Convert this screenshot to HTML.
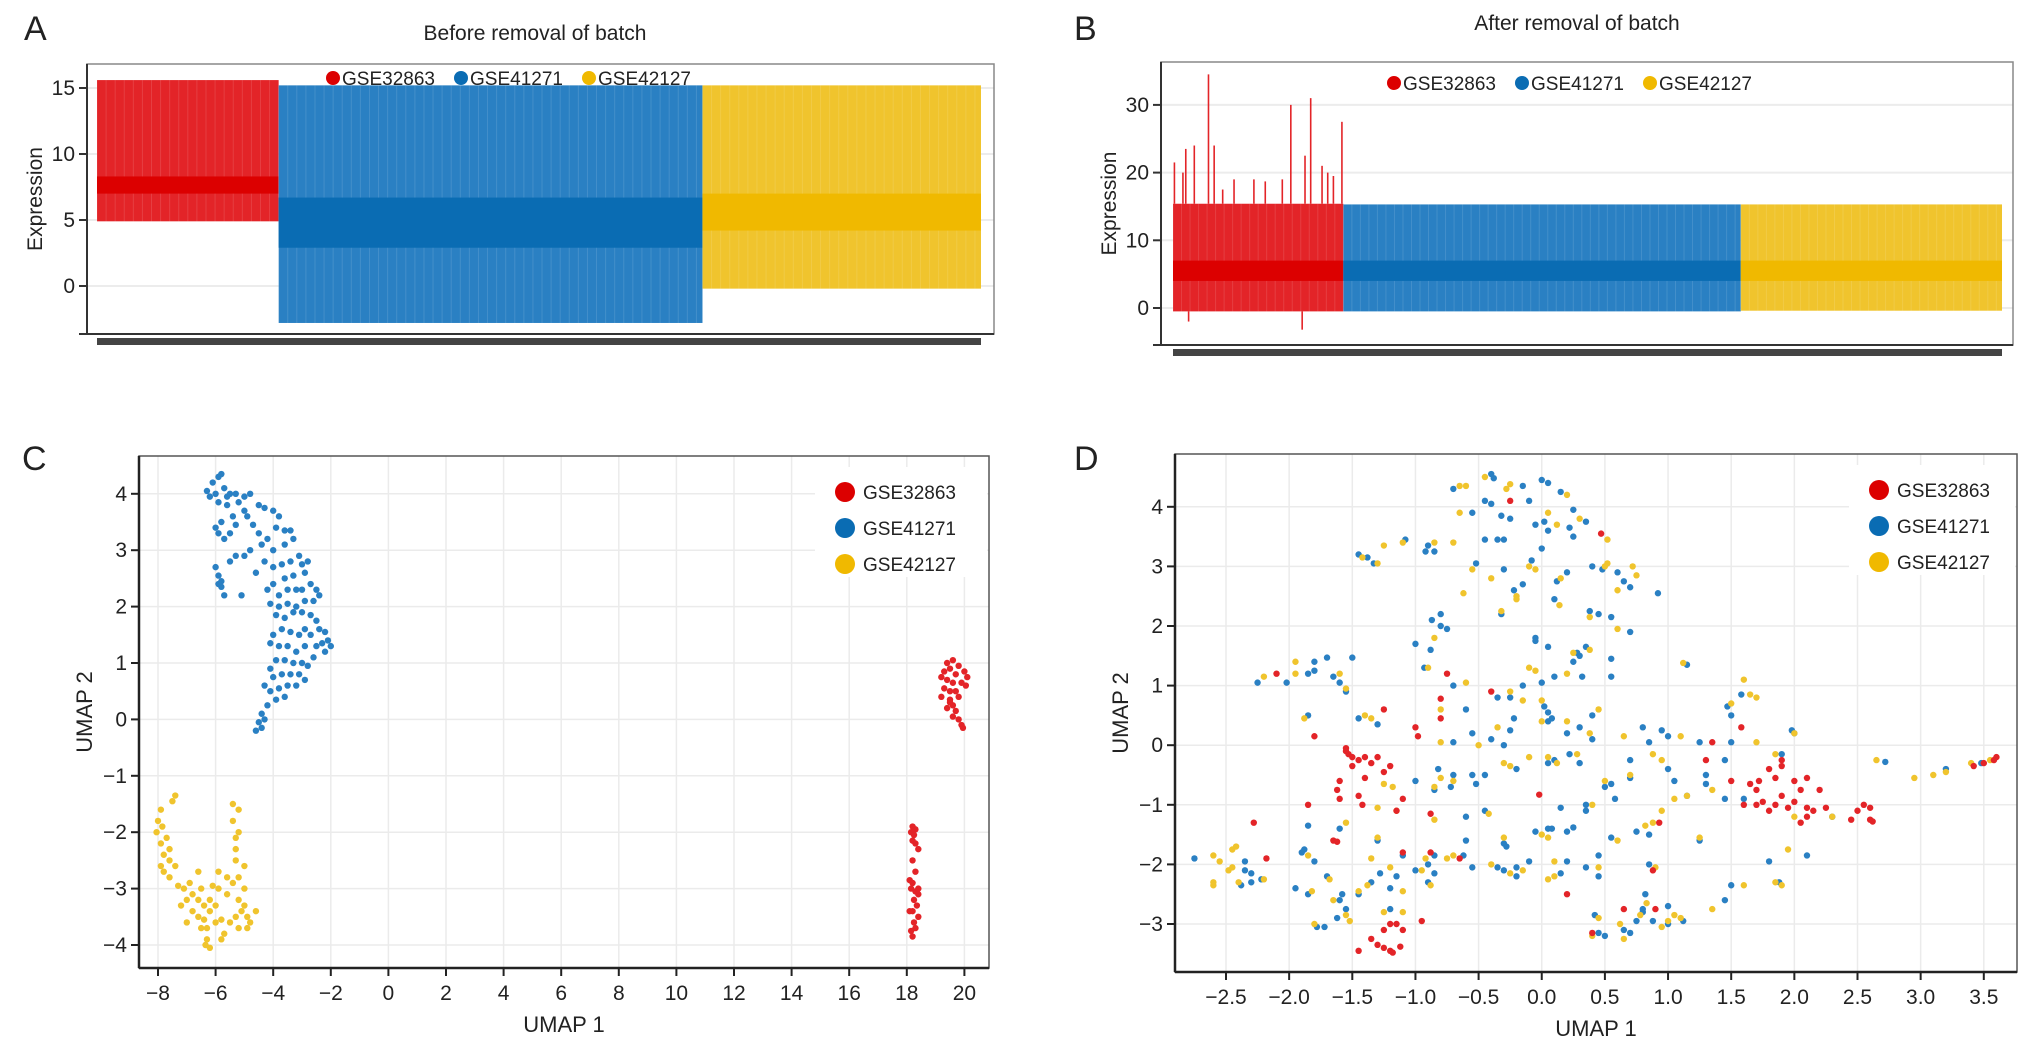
<!DOCTYPE html>
<html><head><meta charset="utf-8">
<style>
html,body{margin:0;padding:0;background:#fff;}
svg{display:block;font-family:"Liberation Sans",sans-serif;}
</style></head>
<body>
<svg id="fig" width="2032" height="1053" viewBox="0 0 2032 1053"></svg>
<script>
// ---------- data ----------
const groups = ["GSE32863","GSE41271","GSE42127"];
const colors = ["#e32428","#2a80c3","#f0c42d"];
const boxColors = ["#dc0000","#0a6cb3","#f0b900"];
// panel A stats per group: [lowWhisker, q1, q3, highWhisker]
const statsA = [[4.9,7.0,8.3,15.6],[-2.8,2.9,6.7,15.2],[-0.2,4.2,7.0,15.2]];
const samplesA = [60,140,92];
// panel B stats
const statsB = [[-0.5,4.0,7.0,15.4],[-0.5,4.0,7.0,15.3],[-0.4,4.0,7.0,15.3]];
const samplesB = [60,140,92];
const spikeIdxB = [0,3,4,7,12,14,17,21,28,32,38,41,46,48,52,54,56,59];
const spikeValB = [21.5,20,23.5,24,34.5,24,17.5,19,19,18.7,19,30,22.5,31,21,20,19.5,27.5];
const lowSpikeIdxB = [5,45];
const lowSpikeValB = [-2,-3.2];
const ticksA = [0,5,10,15];
const ticksB = [0,10,20,30];
const ticksCx = [-8,-6,-4,-2,0,2,4,6,8,10,12,14,16,18,20];
const ticksCy = [-4,-3,-2,-1,0,1,2,3,4];
const ticksDx = [-2.5,-2.0,-1.5,-1.0,-0.5,0.0,0.5,1.0,1.5,2.0,2.5,3.0,3.5];
const ticksDy = [-3,-2,-1,0,1,2,3,4];

const cBlueX=[-6.3,-6.1,-5.9,-5.8,-6.2,-6.0,-5.7,-5.6,-5.5,-5.3,-5.0,-4.8,-5.2,-5.9,-5.6,-4.5,-4.3,-4.0,-3.8,-5.0,-4.9,-5.4,-5.8,-6.0,-5.9,-5.7,-5.5,-5.3,-4.7,-4.5,-4.2,-3.9,-3.6,-3.4,-3.3,-3.6,-4.0,-4.4,-4.8,-5.0,-5.3,-5.5,-6.0,-5.9,-5.8,-5.7,-5.1,-4.6,-4.3,-4.0,-3.7,-3.4,-3.1,-3.0,-2.8,-2.9,-3.3,-3.6,-4.0,-4.2,-3.8,-3.5,-3.2,-3.0,-2.7,-2.5,-2.4,-2.6,-2.9,-3.2,-3.5,-3.8,-4.1,-3.9,-3.6,-3.3,-3.0,-2.7,-2.5,-2.4,-2.2,-2.1,-2.0,-2.2,-2.3,-2.5,-2.7,-2.9,-3.1,-3.4,-3.7,-4.0,-4.1,-3.8,-3.5,-3.2,-2.9,-2.6,-2.8,-3.0,-3.3,-3.6,-3.9,-4.1,-4.0,-3.7,-3.4,-3.1,-2.9,-3.2,-3.5,-3.8,-4.1,-4.3,-3.9,-3.6,-4.2,-4.4,-4.5,-4.6,-4.4,-4.3,-5.9,-5.8];
const cBlueY=[4.05,4.2,4.3,4.35,3.95,4.0,4.1,3.95,4.0,4.0,3.95,4.0,3.85,3.85,3.8,3.8,3.75,3.7,3.6,3.7,3.6,3.6,3.5,3.4,3.3,3.2,3.3,3.45,3.45,3.3,3.2,3.4,3.35,3.35,3.2,3.1,3.0,3.1,3.0,2.9,2.9,2.8,2.7,2.4,2.35,2.2,2.2,2.6,2.8,2.7,2.75,2.8,2.9,2.75,2.8,2.6,2.55,2.5,2.4,2.3,2.2,2.3,2.3,2.3,2.4,2.3,2.2,2.1,2.1,2.0,2.05,2.0,2.05,1.85,1.8,1.9,1.9,1.85,1.75,1.6,1.55,1.4,1.3,1.2,1.35,1.3,1.5,1.6,1.5,1.55,1.6,1.5,1.35,1.3,1.3,1.2,1.3,1.1,0.95,1.0,1.0,1.05,1.05,0.9,0.75,0.8,0.8,0.8,0.7,0.6,0.6,0.55,0.5,0.6,0.35,0.4,0.25,0.1,-0.05,-0.2,-0.15,0.0,2.55,2.45];
const cYelX=[-7.4,-7.5,-7.9,-8.0,-7.85,-8.05,-7.9,-7.7,-7.6,-7.8,-7.9,-7.6,-7.4,-7.6,-7.8,-7.3,-7.1,-7.0,-6.8,-6.6,-6.4,-6.8,-6.6,-6.4,-6.2,-6.0,-6.2,-6.5,-6.3,-6.3,-6.2,-6.35,-6.0,-5.8,-5.7,-5.8,-5.5,-5.3,-5.1,-4.9,-4.8,-4.9,-5.2,-4.6,-5.0,-5.2,-5.0,-5.2,-5.4,-5.6,-5.9,-5.3,-5.3,-5.3,-5.4,-5.4,-5.2,-5.2,-5.0,-6.6,-7.2,-6.9,-5.6,-5.9,-6.1,-7.0,-6.5];
const cYelY=[-1.35,-1.45,-1.6,-1.8,-1.9,-2.0,-2.2,-2.1,-2.3,-2.4,-2.6,-2.5,-2.6,-2.8,-2.7,-2.95,-3.0,-3.2,-3.1,-3.2,-3.3,-3.4,-3.5,-3.55,-3.4,-3.3,-3.2,-3.0,-3.7,-3.9,-4.05,-4.0,-3.6,-3.55,-3.8,-3.9,-3.6,-3.5,-3.4,-3.5,-3.6,-3.7,-3.7,-3.4,-3.3,-3.2,-3.0,-2.8,-2.9,-2.8,-2.7,-2.5,-2.3,-2.1,-1.8,-1.5,-1.6,-2.0,-2.6,-2.7,-3.3,-2.9,-3.1,-3.0,-2.95,-3.6,-3.7];
const cRedX=[19.4,19.6,19.8,19.5,19.3,20.0,20.1,19.7,19.2,19.4,19.6,19.9,20.05,19.3,19.5,19.7,19.2,19.5,19.8,19.6,19.4,19.7,19.6,19.8,19.9,19.95,19.5,18.2,18.3,18.15,18.25,18.2,18.3,18.4,18.2,18.3,18.1,18.2,18.15,18.3,18.4,18.25,18.35,18.2,18.4,18.25,18.3,18.15,18.2,18.4,18.1];
const cRedY=[1.0,1.05,0.95,0.9,0.85,0.85,0.75,0.8,0.75,0.7,0.65,0.65,0.6,0.55,0.5,0.5,0.4,0.35,0.4,0.25,0.2,0.15,0.05,0.0,-0.1,-0.15,0.3,-1.9,-1.95,-2.0,-2.05,-2.15,-2.2,-2.3,-2.5,-2.7,-2.85,-2.9,-3.0,-3.05,-3.1,-3.2,-3.3,-3.4,-3.5,-3.6,-3.7,-3.75,-3.85,-3.0,-3.4];

const dPts = "b,-0.4,4.55 b,-0.38,4.48 y,-0.45,4.5 b,-0.15,4.35 y,-0.25,4.38 y,-0.28,4.3 r,-0.25,4.1 b,-0.1,4.1 b,0,4.45 b,0.05,4.4 b,0.15,4.25 y,0.2,4.2 b,-0.45,4.1 b,-0.4,4.05 b,-0.55,3.9 y,-0.65,3.9 b,-0.7,4.3 y,-0.65,4.35 y,-0.6,4.35 b,-0.32,3.85 b,-0.25,3.8 b,0.25,3.95 y,0.05,3.9 b,0.35,3.75 y,0.3,3.8 b,-0.05,3.7 b,0.02,3.75 b,0.05,3.6 y,0.12,3.7 b,0.22,3.65 b,0.25,3.5 r,0.47,3.55 y,0.52,3.45 b,-0.45,3.45 b,-0.3,3.45 b,-0.35,3.45 b,0.0,3.3 y,-0.85,3.4 b,-0.9,3.35 b,-0.85,3.25 b,-0.92,3.25 y,-0.7,3.4 y,-1.1,3.4 b,-1.08,3.45 y,-1.25,3.35 b,-1.45,3.2 y,-1.42,3.15 b,-1.38,3.15 b,-1.33,3.05 y,-1.3,3.05 y,-0.55,2.95 b,-0.52,3.05 b,-0.3,2.95 y,-0.1,3.0 b,-0.08,3.1 y,-0.05,2.95 b,0.2,2.9 b,0.12,2.75 y,0.15,2.8 b,0.4,3.0 y,0.5,3.0 b,0.48,2.95 y,0.52,3.05 b,0.6,2.9 b,0.65,2.75 y,0.72,3.0 y,0.75,2.85 b,0.7,2.65 y,0.6,2.6 b,0.92,2.55 y,-0.4,2.8 y,-0.2,2.5 b,-0.22,2.6 y,-0.2,2.45 b,-0.15,2.7 b,-0.32,2.2 y,-0.32,2.25 b,0.1,2.45 y,0.14,2.35 b,0.38,2.25 y,0.38,2.15 b,0.45,2.2 y,-0.62,2.55 b,-0.8,2.2 b,-0.87,2.1 b,-0.8,2.0 b,-0.75,1.95 b,0.55,2.15 y,0.6,1.95 b,0.7,1.9 b,-0.05,1.8 b,-0.05,1.75 b,0.05,1.65 y,-0.85,1.8 b,-1.0,1.7 b,-0.88,1.6 b,0.28,1.55 b,0.3,1.5 y,0.25,1.55 b,0.35,1.65 y,0.38,1.6 b,0.25,1.4 b,0.55,1.45 b,-0.93,1.3 y,-0.9,1.3 y,1.12,1.38 b,1.15,1.35 b,-1.5,1.47 b,-1.7,1.47 b,-1.8,1.4 y,-1.95,1.4 b,-1.8,1.25 b,-1.85,1.2 y,-1.95,1.2 b,-1.65,1.15 y,-1.6,1.2 b,-1.6,1.05 y,-1.55,0.95 b,-1.55,0.9 r,-2.1,1.2 y,-2.2,1.15 b,-2.25,1.05 b,-2.02,1.05 y,-0.1,1.3 y,-0.05,1.25 b,0.1,1.15 y,0.2,1.2 b,0.32,1.15 b,0.55,1.15 r,-0.75,1.2 y,-0.6,1.05 b,-0.7,1.0 b,-0.15,1.0 b,0.0,1.05 y,-0.25,0.9 r,-0.4,0.9 r,-0.8,0.78 b,-0.35,0.8 b,-0.25,0.8 y,-0.15,0.75 y,0.0,0.75 b,0.02,0.65 b,0.05,0.55 y,-0.8,0.6 b,-0.6,0.6 r,-0.8,0.45 b,0.4,0.5 y,0.45,0.6 y,-1.4,0.5 b,-1.45,0.45 y,-1.35,0.45 b,-1.3,0.35 r,-1.25,0.6 b,-1.85,0.5 y,-1.88,0.45 b,-0.22,0.45 b,0.08,0.45 y,0.0,0.4 b,0.05,0.4 y,0.2,0.4 b,-0.25,0.25 y,-0.35,0.3 b,-0.55,0.2 b,-0.3,0.0 b,-0.4,0.1 y,-0.5,0.0 b,-0.7,0.05 y,-0.8,0.05 b,0.3,0.3 y,0.38,0.2 b,0.2,0.2 b,0.4,0.1 b,0.8,0.3 b,0.85,0.05 y,0.65,0.15 b,0.95,0.25 y,1.1,0.15 b,1.0,0.15 b,1.25,0.05 b,1.5,0.5 y,1.5,0.7 b,1.47,0.65 y,1.65,0.85 y,1.6,1.1 b,1.58,0.85 y,1.7,0.8 r,1.58,0.3 y,2.0,0.2 b,2.0,0.2 b,1.98,0.25 y,1.7,0.05 b,1.5,0.05 r,1.35,0.05 r,-1.0,0.3 r,-0.98,0.15 r,-1.8,0.15 r,-1.55,-0.1 r,-1.53,-0.15 r,-1.55,-0.05 r,-1.5,-0.2 r,-1.45,-0.25 r,-1.4,-0.2 r,-1.3,-0.2 r,-1.35,-0.3 r,-1.25,-0.45 r,-1.2,-0.35 r,-1.5,-0.35 r,-1.4,-0.55 r,-1.6,-0.6 r,-1.62,-0.75 r,-1.6,-0.9 r,-1.45,-0.85 r,-1.42,-1.0 r,-1.85,-1.0 r,-1.1,-0.9 r,-1.15,-1.1 r,-0.88,-1.15 y,-1.15,-1.1 y,-1.3,-1.05 b,-1.0,-0.6 y,-1.18,-0.7 y,-1.25,-0.65 b,-0.7,-0.5 b,-0.72,-0.7 y,-0.8,-0.55 b,-0.82,-0.4 y,-0.85,-0.7 b,-0.85,-0.75 b,-0.55,-0.5 b,-0.52,-0.65 b,-0.45,-0.5 y,-0.3,-0.3 y,-0.25,-0.35 b,-0.2,-0.4 y,-0.1,-0.2 y,0.05,-0.2 b,0.05,-0.3 b,0.1,-0.25 y,0.12,-0.3 b,0.3,-0.3 b,0.22,-0.15 y,0.28,-0.15 b,0.7,-0.25 y,0.7,-0.5 b,0.7,-0.55 y,0.5,-0.6 b,0.5,-0.7 b,0.55,-0.65 b,0.58,-0.9 y,0.88,-0.15 y,0.95,-0.25 b,1.0,-0.4 b,1.05,-0.6 y,1.05,-0.9 b,1.15,-0.85 b,1.3,-0.5 y,1.35,-0.75 b,1.3,-0.65 b,1.45,-0.9 b,1.45,-0.25 r,1.3,-0.25 r,1.5,-0.6 b,1.6,-0.9 r,1.6,-1.0 r,1.65,-0.65 r,1.7,-0.75 r,1.72,-0.6 r,1.8,-0.4 r,1.85,-0.55 r,1.9,-0.35 r,1.9,-0.25 y,1.85,-0.15 b,1.9,-0.15 r,1.7,-1.0 r,1.8,-1.1 r,1.85,-1.0 r,1.75,-0.95 r,1.9,-0.85 r,2.0,-0.6 r,2.05,-0.75 r,2.1,-0.55 r,2.2,-0.75 r,2.0,-0.95 r,1.95,-1.05 r,2.1,-1.05 r,2.15,-1.1 r,2.25,-1.05 r,2.05,-1.3 r,2.1,-1.2 y,2.0,-1.2 y,2.3,-1.2 r,2.45,-1.25 r,2.5,-1.1 r,2.55,-1.0 r,2.6,-1.05 r,2.6,-1.25 r,2.62,-1.28 b,2.3,-1.2 y,2.65,-0.25 b,2.72,-0.28 y,2.95,-0.55 y,3.1,-0.5 b,3.2,-0.4 y,3.2,-0.45 y,3.4,-0.3 r,3.42,-0.35 r,3.5,-0.3 b,3.48,-0.3 y,3.55,-0.25 r,3.6,-0.2 r,3.58,-0.25 r,-0.02,-0.83 b,0.15,-1.05 b,0.35,-1.1 y,0.4,-1.0 y,0.95,-1.1 y,0.88,-1.3 r,0.93,-1.3 y,0.82,-1.35 b,0.85,-1.5 b,0.75,-1.45 y,0.6,-1.6 b,0.55,-1.55 b,0.05,-1.4 b,0.08,-1.4 y,0.0,-1.5 b,-0.05,-1.45 y,0.05,-1.55 y,-0.3,-1.55 b,-0.3,-1.65 b,-0.28,-1.7 y,-0.42,-1.15 b,-0.45,-1.1 b,-0.6,-1.2 b,-0.6,-1.6 y,-0.7,-1.85 r,-0.65,-1.9 b,-0.62,-1.85 y,-0.75,-1.9 r,-0.88,-1.8 b,-0.85,-1.85 y,-0.92,-1.9 b,-0.9,-2.0 y,-0.95,-2.1 b,-1.0,-2.1 b,-0.85,-2.15 b,-0.9,-2.3 y,-0.88,-2.35 b,-1.1,-1.85 r,-1.1,-1.8 b,-1.15,-2.2 y,-1.2,-2.05 b,-1.28,-2.15 y,-1.3,-1.55 b,-1.3,-1.6 y,-1.35,-1.9 b,-1.35,-2.3 y,-1.38,-2.35 b,-1.2,-2.4 y,-1.45,-2.45 b,-1.45,-2.5 b,-1.58,-2.5 b,-1.6,-2.6 y,-1.65,-2.6 y,-1.55,-2.85 b,-1.55,-2.75 y,-1.52,-2.95 b,-1.62,-2.9 b,-1.72,-3.05 b,-1.78,-3.05 y,-1.8,-3.0 b,-1.7,-2.2 y,-1.68,-2.25 b,-1.8,-1.95 y,-1.85,-1.85 y,-1.82,-2.45 b,-1.85,-2.5 b,-1.95,-2.4 b,-1.9,-1.8 b,-1.88,-1.75 r,-1.65,-1.6 r,-1.62,-1.62 b,-1.6,-1.4 y,-1.55,-1.3 b,-1.85,-1.35 r,-2.28,-1.3 r,-2.18,-1.9 y,-2.6,-1.85 b,-2.75,-1.9 y,-2.55,-1.95 y,-2.45,-2.05 y,-2.45,-1.75 y,-2.42,-1.7 b,-2.35,-1.95 b,-2.35,-2.1 b,-2.3,-2.15 y,-2.4,-2.3 y,-2.48,-2.1 b,-2.38,-2.35 b,-2.3,-2.3 y,-2.2,-2.25 b,-2.22,-2.25 y,-2.6,-2.3 y,-2.6,-2.35 y,-1.1,-2.45 r,-0.95,-2.95 r,-1.2,-3.0 r,-1.15,-3.0 r,-1.1,-3.1 r,-1.25,-3.1 r,-1.35,-3.25 r,-1.3,-3.35 r,-1.25,-3.4 r,-1.2,-3.45 r,-1.18,-3.48 r,-1.12,-3.38 r,-1.45,-3.45 y,-1.25,-2.8 b,-1.2,-2.75 y,-1.1,-2.8 b,-0.55,-2.05 y,-0.4,-2.0 b,-0.35,-2.05 b,-0.3,-2.1 y,-0.25,-2.15 b,-0.2,-2.05 b,-0.2,-2.2 y,-0.15,-2.1 b,-0.1,-1.95 y,0.05,-2.25 y,0.1,-2.2 b,0.15,-2.15 b,0.2,-1.95 y,0.1,-1.95 b,0.35,-2.05 y,0.45,-2.05 b,0.45,-1.85 r,0.2,-2.5 b,0.35,-1.0 b,0.45,-2.2 b,0.42,-2.85 y,0.45,-2.9 y,0.4,-3.2 r,0.4,-3.15 b,0.45,-3.15 b,0.5,-3.2 r,0.65,-2.75 y,0.62,-3.0 b,0.65,-3.1 b,0.7,-3.15 b,0.75,-2.95 y,0.65,-3.25 b,0.8,-2.8 b,0.8,-2.75 y,0.78,-2.85 y,0.83,-2.65 r,0.9,-2.75 b,0.88,-2.95 b,0.82,-2.5 y,0.95,-3.05 b,1.0,-3.0 y,1.0,-2.95 y,1.05,-2.85 b,1.0,-2.7 y,1.1,-2.9 b,1.12,-2.95 y,1.35,-2.75 b,1.45,-2.6 b,1.5,-2.35 y,1.6,-2.35 y,1.85,-2.3 y,1.9,-2.35 b,1.88,-2.3 b,1.8,-1.95 y,1.95,-1.75 b,2.1,-1.85 y,0.9,-2.05 b,0.85,-2.0 r,0.88,-2.1 y,1.15,-0.85 b,1.25,-1.6 y,1.25,-1.55 b,0.2,-1.45 b,0.25,-1.38 y,-0.7,-0.6 y,-0.85,-1.25";

// ---------- drawing ----------
const NS="http://www.w3.org/2000/svg";
const svg=document.getElementById('fig');
function mk(tag,attrs,parent,text){const e=document.createElementNS(NS,tag);for(const k in attrs)e.setAttribute(k,attrs[k]);if(text!==undefined)e.textContent=text;(parent||svg).appendChild(e);return e;}
function grp(name){const g=mk('g',{});return g;}
function label(g,x,y,txt,size,anchor,name,extra){const t=mk('text',Object.assign({x:x,y:y,'font-size':size,'text-anchor':anchor||'middle',fill:'#222'},extra||{}),g,txt);return t;}

function boxPanel(o){
  const g=grp(o.name);
  const Y=v=>o.y0-v*o.ky;
  o.ticks.forEach(t=>{const l=mk('line',{x1:o.L,x2:o.R,y1:Y(t),y2:Y(t),stroke:'#ececec','stroke-width':2},g);});
  const fr=mk('rect',{x:o.L,y:o.T,width:o.R-o.L,height:o.B-o.T,fill:'none',stroke:'#888','stroke-width':1.5},g);
  
  const total=o.samples.reduce((a,b)=>a+b,0);
  const step=(o.xe-o.xs)/total;
  let idx=0;
  const starts=[];
  o.samples.forEach((n,gi)=>{
    const x0=o.xs+idx*step, w=n*step; starts.push(x0);
    const s=o.stats[gi];
    const wr=mk('rect',{x:x0,y:Y(s[3]),width:w,height:Y(s[0])-Y(s[3]),fill:colors[gi]},g);
    
    for(let i=0;i<n;i+=3){const ln=mk('line',{x1:x0+i*step,x2:x0+i*step,y1:Y(s[3]),y2:Y(s[0]),stroke:'rgba(255,255,255,0.12)','stroke-width':1},g);}
    const br=mk('rect',{x:x0,y:Y(s[2]),width:w,height:Y(s[1])-Y(s[2]),fill:boxColors[gi]},g);
    
    idx+=n;
  });
  if(o.spikes){o.spikes[0].forEach((si,k)=>{const x=starts[0]+(si+0.5)*step;const ln=mk('line',{x1:x,x2:x,y1:Y(o.stats[0][3]),y2:Y(o.spikes[1][k]),stroke:colors[0],'stroke-width':1.6},g);});
    o.lowSpikes[0].forEach((si,k)=>{const x=starts[0]+(si+0.5)*step;const ln=mk('line',{x1:x,x2:x,y1:Y(o.stats[0][0]),y2:Y(o.lowSpikes[1][k]),stroke:colors[0],'stroke-width':1.6},g);});}
  const ax=mk('line',{x1:o.L,x2:o.L,y1:o.T,y2:o.B,stroke:'#333','stroke-width':2},g);
  const bx=mk('line',{x1:o.L-8,x2:o.R,y1:o.B,y2:o.B,stroke:'#333','stroke-width':2},g);
  o.ticks.forEach(t=>{const tk=mk('line',{x1:o.L-8,x2:o.L,y1:Y(t),y2:Y(t),stroke:'#333','stroke-width':2},g);
    label(g,o.L-12,Y(t)+7,String(t),21,'end','y-tick-label');});
  const bar=mk('rect',{x:o.xs,y:o.B+4,width:o.xe-o.xs,height:7,fill:'#444'},g);
  label(g,o.L-52,(o.T+o.B)/2,'Expression',21,'middle','y-axis-title',{transform:`rotate(-90 ${o.L-52} ${(o.T+o.B)/2})`,dy:7});
  label(g,o.titleX,o.titleY,o.title,21,'middle','chart-title');
  label(g,o.letterX,o.letterY,o.letter,34,'start','panel-letter');
  let lx=o.legX;
  groups.forEach((gn,gi)=>{const c=mk('circle',{cx:lx+6,cy:o.legY,r:7,fill:boxColors[gi]},g);
    label(g,lx+15,o.legY+7,gn,19,'start','legend-entry');lx+=o.legStep;});
}
boxPanel({name:'panel-a',L:87,R:994,T:64,B:334,y0:286,ky:13.2,ticks:ticksA,stats:statsA,samples:samplesA,xs:97,xe:981,title:'Before removal of batch',titleX:535,titleY:40,letter:'A',letterX:24,letterY:40,legX:327,legY:78,legStep:128});
boxPanel({name:'panel-b',L:1161,R:2013,T:62,B:345,y0:308,ky:6.77,ticks:ticksB,stats:statsB,samples:samplesB,xs:1173,xe:2002,spikes:[spikeIdxB,spikeValB],lowSpikes:[lowSpikeIdxB,lowSpikeValB],title:'After removal of batch',titleX:1577,titleY:30,letter:'B',letterX:1074,letterY:40,legX:1388,legY:83,legStep:128});

function scatterPanel(o){
  const g=grp(o.name);
  const X=v=>o.x0+(v-o.xa)*o.kx, Y=v=>o.y0-(v-o.ya)*o.ky;
  o.tx.forEach(t=>{const l=mk('line',{x1:X(t),x2:X(t),y1:o.T,y2:o.B,stroke:'#ebebeb','stroke-width':1.5},g);});
  o.ty.forEach(t=>{const l=mk('line',{x1:o.L,x2:o.R,y1:Y(t),y2:Y(t),stroke:'#ebebeb','stroke-width':1.5},g);});
  o.series.forEach(s=>{s.x.forEach((xv,i)=>{const c=mk('circle',{cx:X(xv),cy:Y(s.y[i]),r:3.2,fill:colors[s.g]},g);});});
  const lb=mk('rect',{x:o.legX-30,y:o.legY-25,width:o.R-(o.legX-30)-2,height:110,fill:'#fff'},g);
  groups.forEach((gn,gi)=>{const c=mk('circle',{cx:o.legX,cy:o.legY+gi*36,r:10,fill:boxColors[gi]},g);
    label(g,o.legX+18,o.legY+gi*36+7,gn,19,'start','legend-entry');});
  const fr=mk('rect',{x:o.L,y:o.T,width:o.R-o.L,height:o.B-o.T,fill:'none',stroke:'#555','stroke-width':1.5},g);
  const ay=mk('line',{x1:o.L,x2:o.L,y1:o.T,y2:o.B,stroke:'#222','stroke-width':2.5},g);
  const axl=mk('line',{x1:o.L,x2:o.R,y1:o.B,y2:o.B,stroke:'#222','stroke-width':2.5},g);
  o.tx.forEach(t=>{const tk=mk('line',{x1:X(t),x2:X(t),y1:o.B,y2:o.B+8,stroke:'#222','stroke-width':2},g);
    label(g,X(t),o.B+32,(t<0?'\u2212':'')+Math.abs(t).toFixed(o.dec),21,'middle','x-tick-label');});
  o.ty.forEach(t=>{const tk=mk('line',{x1:o.L-8,x2:o.L,y1:Y(t),y2:Y(t),stroke:'#222','stroke-width':2},g);
    label(g,o.L-12,Y(t)+7,(t<0?'\u2212':'')+Math.abs(t),21,'end','y-tick-label');});
  label(g,(o.L+o.R)/2,o.B+64,'UMAP 1',22,'middle','x-axis-title');
  const cy=(o.T+o.B)/2;
  label(g,o.L-54,cy,'UMAP 2',22,'middle','y-axis-title',{transform:`rotate(-90 ${o.L-54} ${cy})`,dy:7});
  label(g,o.letterX,o.letterY,o.letter,34,'start','panel-letter');
}
scatterPanel({name:'panel-c',L:139,R:989,T:456,B:968,x0:158,xa:-8,kx:28.8,y0:945,ya:-4,ky:56.4,tx:ticksCx,ty:ticksCy,dec:0,
  series:[{g:1,x:cBlueX,y:cBlueY},{g:2,x:cYelX,y:cYelY},{g:0,x:cRedX,y:cRedY}],letter:'C',letterX:22,letterY:470,legX:845,legY:492});
const dX=[[],[],[]],dY=[[],[],[]];
dPts.split(' ').forEach(s=>{const p=s.split(',');const gi=p[0]==='r'?0:(p[0]==='b'?1:2);dX[gi].push(+p[1]);dY[gi].push(+p[2]);});
scatterPanel({name:'panel-d',L:1175,R:2017,T:454,B:972,x0:1226,xa:-2.5,kx:126.3,y0:924,ya:-3,ky:59.6,tx:ticksDx,ty:ticksDy,dec:1,
  series:[{g:1,x:dX[1],y:dY[1]},{g:2,x:dX[2],y:dY[2]},{g:0,x:dX[0],y:dY[0]}],letter:'D',letterX:1074,letterY:470,legX:1879,legY:490});
</script>
</body></html>
